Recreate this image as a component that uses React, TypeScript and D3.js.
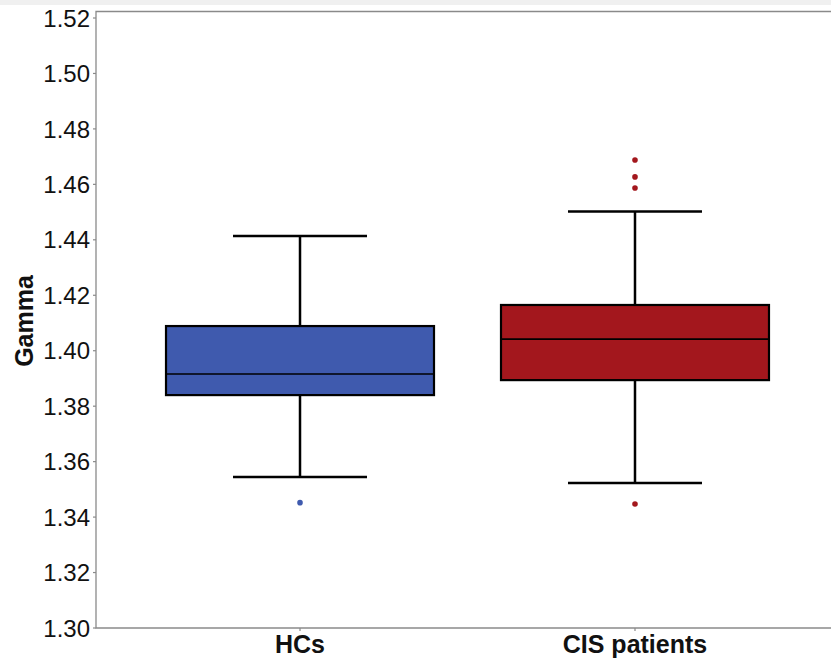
import { useEffect, useRef } from "react";
import * as d3 from "d3";

const categories = ["HCs", "CIS patients"];
const colors = ["#3f5aae", "#a3171d"];
// five-number summaries per group: [lowWhisker, q1, median, q3, highWhisker]
const hcStats = [1.3545, 1.384, 1.3916, 1.4089, 1.4414];
const cisStats = [1.3523, 1.3894, 1.4042, 1.4165, 1.4502];
const hcOutliers = [1.3452];
const cisOutliers = [1.3447, 1.4587, 1.4627, 1.4688];
const yTicks = [1.3, 1.32, 1.34, 1.36, 1.38, 1.4, 1.42, 1.44, 1.46, 1.48, 1.5, 1.52];

const W = 831;
const H = 662;

export default function App() {
  const svgRef = useRef<SVGSVGElement>(null);

  useEffect(() => {
    const svg = d3.select(svgRef.current);
    svg.selectAll("*").remove();

    const left = 96;
    const bottom = 628;
    const top = 11.5;

    const y = d3.scaleLinear().domain([1.3, 1.52]).range([bottom, 18]);
    const x = d3
      .scaleBand<string>()
      .domain(categories)
      .range([left, 839])
      .paddingInner(0.2)
      .paddingOuter(0.209);

    svg.append("rect").attr("width", W).attr("height", H).attr("fill", "#fff");
    svg.append("rect").attr("width", W).attr("height", 5).attr("fill", "#f0f0f0");

    // panel frame
    svg
      .append("path")
      .attr("d", `M${W + 2},${top}H${left}V${bottom}H${W + 2}`)
      .attr("fill", "none")
      .attr("stroke", "#8a8a8a")
      .attr("stroke-width", 1.3);

    // y axis
    const ya = svg.append("g");
    yTicks.forEach((t) => {
      ya.append("line")
        .attr("x1", left - 3)
        .attr("x2", left)
        .attr("y1", y(t))
        .attr("y2", y(t))
        .attr("stroke", "#8a8a8a")
        .attr("stroke-width", 1.2);
      ya.append("text")
        .attr("x", left - 6)
        .attr("y", y(t))
        .attr("dy", "0.36em")
        .attr("text-anchor", "end")
        .attr("font-family", "Liberation Sans, Arial, sans-serif")
        .attr("font-size", 24)
        .attr("fill", "#111")
        .text(t.toFixed(2));
    });

    svg
      .append("text")
      .attr("transform", `translate(33,321) rotate(-90)`)
      .attr("text-anchor", "middle")
      .attr("font-family", "Liberation Sans, Arial, sans-serif")
      .attr("font-weight", "bold")
      .attr("font-size", 25)
      .attr("fill", "#111")
      .text("Gamma");

    // x axis
    categories.forEach((c) => {
      const cx = x(c)! + x.bandwidth() / 2;
      svg
        .append("line")
        .attr("x1", cx)
        .attr("x2", cx)
        .attr("y1", bottom)
        .attr("y2", bottom + 3)
        .attr("stroke", "#8a8a8a")
        .attr("stroke-width", 1.2);
      svg
        .append("text")
        .attr("x", cx)
        .attr("y", 653)
        .attr("text-anchor", "middle")
        .attr("font-family", "Liberation Sans, Arial, sans-serif")
        .attr("font-weight", "bold")
        .attr("font-size", 25)
        .attr("fill", "#111")
        .text(c);
    });

    const groups = [
      { name: categories[0], stats: hcStats, out: hcOutliers, color: colors[0] },
      { name: categories[1], stats: cisStats, out: cisOutliers, color: colors[1] },
    ];

    groups.forEach((g) => {
      const x0 = x(g.name)!;
      const bw = x.bandwidth();
      const cx = x0 + bw / 2;
      const [lo, q1, med, q3, hi] = g.stats;
      const gg = svg.append("g");

      gg.append("line")
        .attr("x1", cx).attr("x2", cx)
        .attr("y1", y(hi)).attr("y2", y(q3))
        .attr("stroke", "#000").attr("stroke-width", 2.5);
      gg.append("line")
        .attr("x1", cx).attr("x2", cx)
        .attr("y1", y(q1)).attr("y2", y(lo))
        .attr("stroke", "#000").attr("stroke-width", 2.5);
      [lo, hi].forEach((v) => {
        gg.append("line")
          .attr("x1", cx - bw / 4).attr("x2", cx + bw / 4)
          .attr("y1", y(v)).attr("y2", y(v))
          .attr("stroke", "#000").attr("stroke-width", 2.5);
      });

      gg.append("rect")
        .attr("x", x0)
        .attr("y", y(q3))
        .attr("width", bw)
        .attr("height", y(q1) - y(q3))
        .attr("fill", g.color)
        .attr("stroke", "#000")
        .attr("stroke-width", 2.2);
      gg.append("line")
        .attr("x1", x0).attr("x2", x0 + bw)
        .attr("y1", y(med)).attr("y2", y(med))
        .attr("stroke", "#000").attr("stroke-width", 1.6);

      g.out.forEach((v) => {
        gg.append("circle")
          .attr("cx", cx)
          .attr("cy", y(v))
          .attr("r", 2.8)
          .attr("fill", g.color);
      });
    });
  }, []);

  return (
    <div style={{ position: "fixed", left: 0, top: 0 }}>
      <svg ref={svgRef} width={W} height={H} style={{ display: "block" }} />
    </div>
  );
}
